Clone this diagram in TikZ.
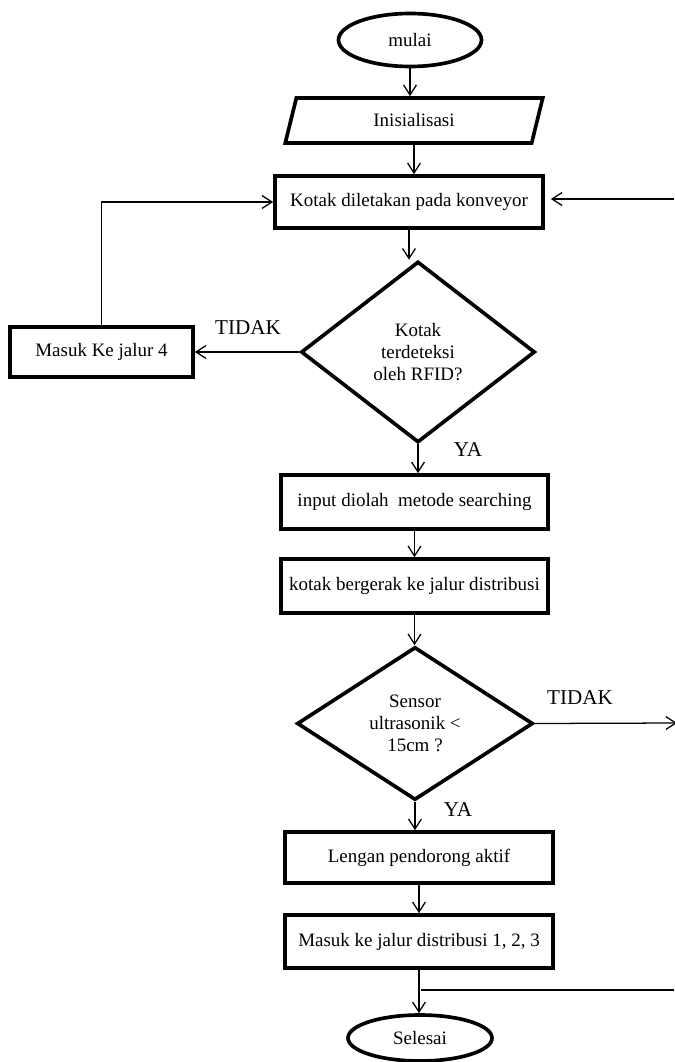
\documentclass[tikz,border=0pt]{standalone}
\usepackage{fontspec}
\setmainfont{Liberation Serif}
\usetikzlibrary{shapes.geometric,arrows.meta}

\begin{document}
\begin{tikzpicture}[x=0.25mm, y=-0.25mm, font=\fontsize{13.5}{15.5}\selectfont,
  >={Straight Barb[length=2.5mm,width=3.2mm]},
  line/.style={line width=0.9pt},
  proc/.style={draw, line width=2.6pt, minimum width=67mm, minimum height=13mm, inner sep=0pt, align=center},
  term/.style={draw, ellipse, line width=2.6pt, inner sep=0pt},
  decide/.style={draw, diamond, aspect=1.3, line width=2.6pt, inner sep=0pt, align=center},
  io/.style={draw, trapezium, trapezium left angle=74, trapezium right angle=106,
    trapezium stretches=true, line width=2.6pt, inner sep=0pt},
  lbl/.style={font=\fontsize{15}{18}\selectfont}]

\useasboundingbox (0,0) rectangle (674,1062);

% main column
\node[term, minimum width=35.75mm, minimum height=13.25mm] (mulai) at (410,40) {mulai};
\node[io, minimum width=64.5mm, minimum height=11.25mm] (init) at (414,120.5) {Inisialisasi};
\node[proc] (kotak) at (409,202) {Kotak diletakan pada konveyor};
\node[decide, minimum width=58.5mm, minimum height=45.25mm] (cek) at (418,352) {Kotak\\terdeteksi\\oleh RFID?};
\node[proc, minimum width=45.75mm, minimum height=12.5mm] (jalur4) at (101.5,352) {Masuk Ke jalur 4};
\node[proc, minimum width=66.75mm, minimum height=13.5mm] (proses) at (414.5,502) {input diolah\ \ metode searching};
\node[proc, minimum width=66.75mm, minimum height=13.5mm] (gerak) at (414.5,586) {kotak bergerak ke jalur distribusi};
\node[decide, minimum width=59mm, minimum height=38.25mm] (sensor) at (415,723.5) {Sensor\\ultrasonik <\\15cm ?};
\node[proc, minimum height=12.75mm] (lengan) at (419,857.5) {Lengan pendorong aktif};
\node[proc, minimum height=13.25mm] (distribusi) at (419,941.5) {Masuk ke jalur distribusi 1, 2, 3};
\node[term, minimum width=36mm, minimum height=11.5mm] (selesai) at (420,1038) {Selesai};

% labels
\node[lbl] (tidak1) at (248,328) {TIDAK};
\node[lbl] (ya1) at (468,450) {YA};
\node[lbl] (tidak2) at (580,698) {TIDAK};
\node[lbl] (ya2) at (458,810) {YA};

\coordinate (kanan1) at (674,199);
\coordinate (kanan2) at (677,723);
\coordinate (cabang) at (421,990);
\coordinate (kanan3) at (674,990);

\draw[line,->] (mulai.south) -- (mulai.south |- init.north);
\draw[line,->] (init.south) -- (init.south |- kotak.north);
\draw[line,->] (kotak.south) -- (kotak.south |- cek.north);
\draw[line,->] (cek.west) -- (jalur4.east);
\draw[line,->] (jalur4.north) |- (kotak.west);
\draw[line,->,shorten >=1.5mm] (kanan1) -- (kanan1 -| kotak.east);
\draw[line,->] (cek.south) -- (cek.south |- proses.north);
\draw[line,->] (proses.south) -- (proses.south |- gerak.north);
\draw[line,->] (gerak.south) -- (gerak.south |- sensor.north);
\draw[line,->] (sensor.east) -- (kanan2);
\draw[line,->] (sensor.south) -- (sensor.south |- lengan.north);
\draw[line,->] (lengan.south) -- (lengan.south |- distribusi.north);
\draw[line,->] (distribusi.south) -- (distribusi.south |- selesai.north);
\draw[line] (cabang) -- (kanan3);

\end{tikzpicture}
\end{document}
